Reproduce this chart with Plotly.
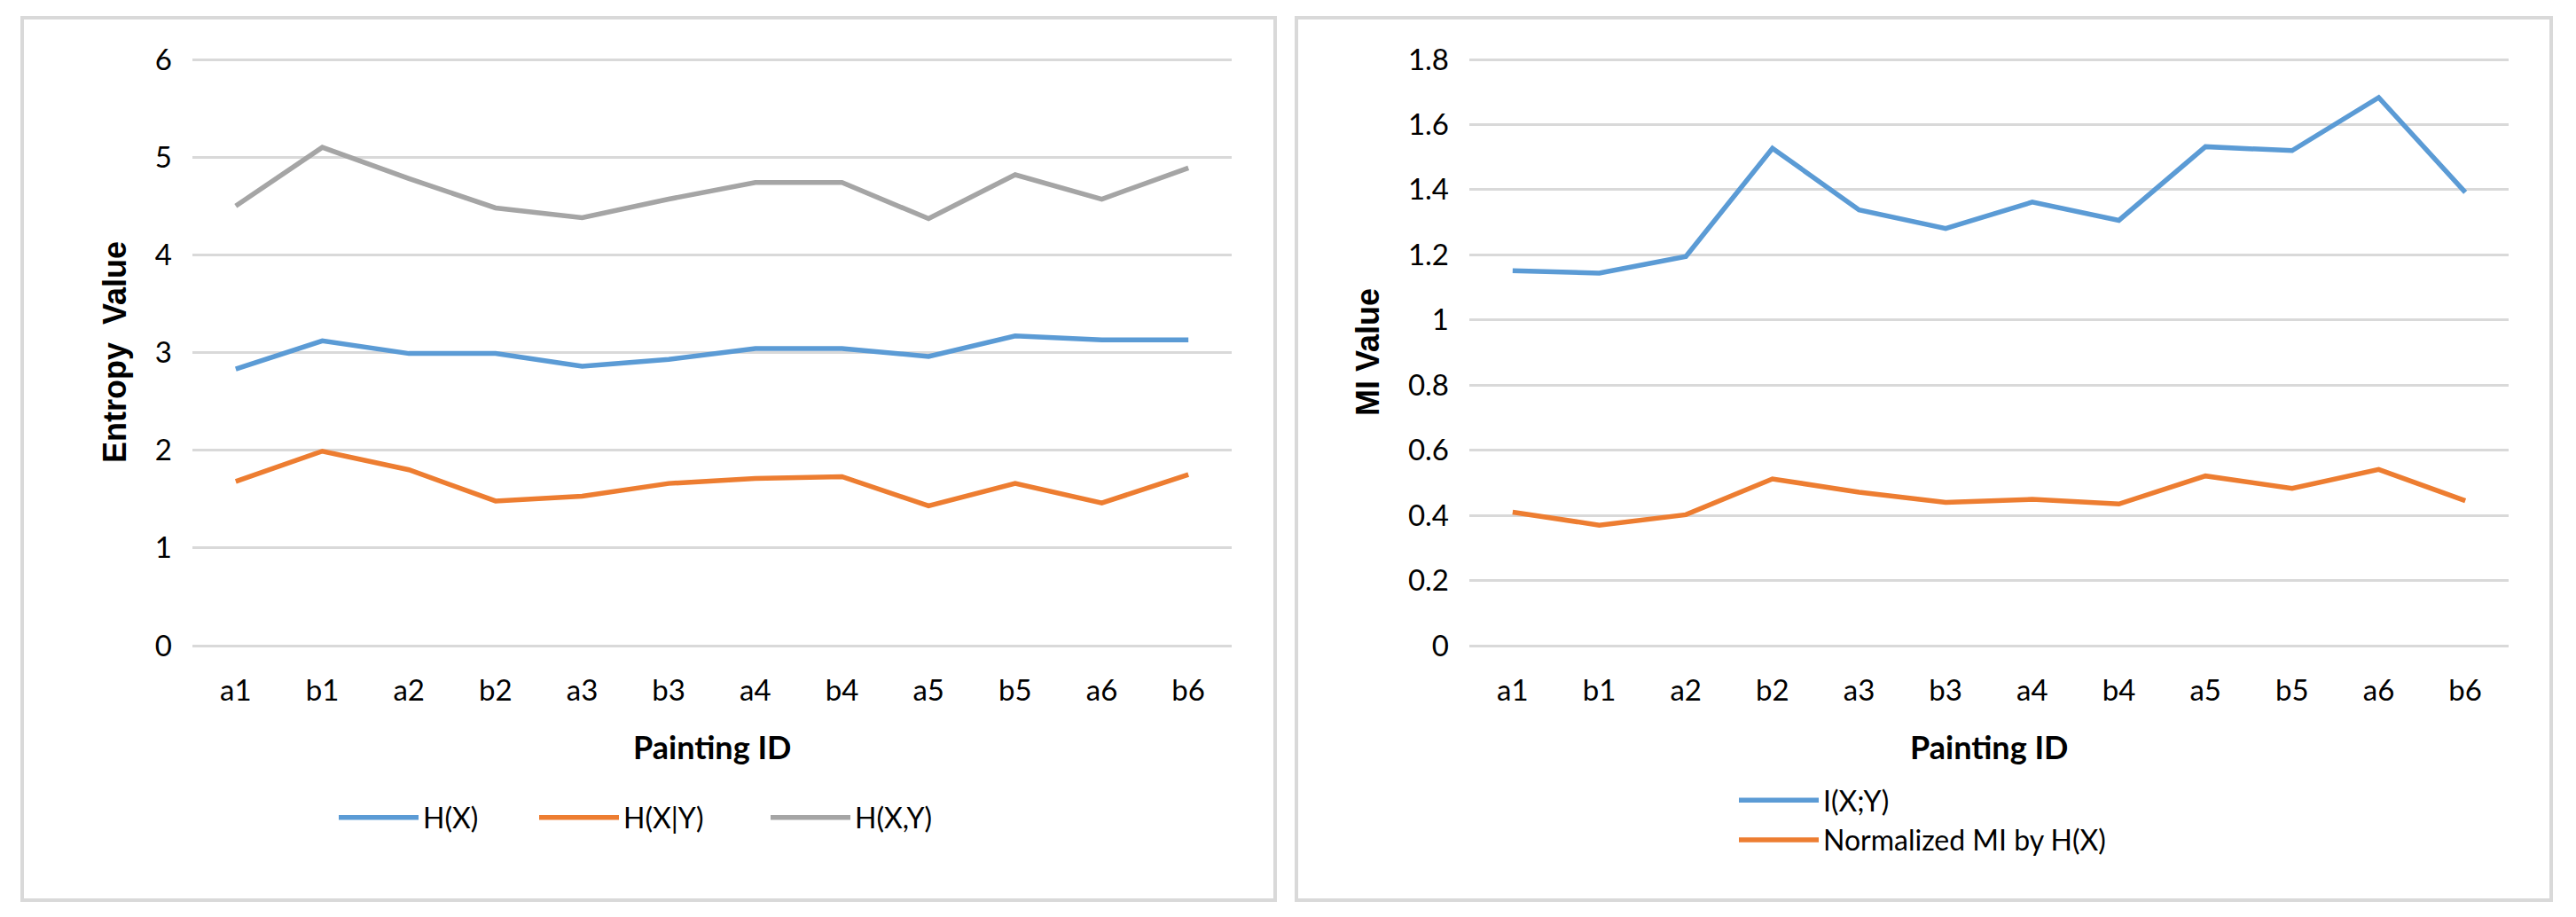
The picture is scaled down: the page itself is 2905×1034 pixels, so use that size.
import plotly.graph_objects as go

W, H = 2905, 1034

painting_ids = ["a1", "b1", "a2", "b2", "a3", "b3", "a4", "b4", "a5", "b5", "a6", "b6"]

# Left chart: entropy values
h_x = [2.83, 3.12, 2.99, 2.99, 2.86, 2.93, 3.04, 3.04, 2.96, 3.17, 3.13, 3.13]
h_x_given_y = [1.68, 1.99, 1.80, 1.48, 1.53, 1.66, 1.71, 1.73, 1.43, 1.66, 1.46, 1.75]
h_xy = [4.50, 5.10, 4.78, 4.48, 4.38, 4.57, 4.74, 4.74, 4.37, 4.82, 4.57, 4.89]

# Right chart: mutual information values
i_xy = [1.151, 1.144, 1.195, 1.527, 1.338, 1.281, 1.362, 1.306, 1.532, 1.520, 1.683, 1.392]
norm_mi = [0.410, 0.370, 0.402, 0.512, 0.471, 0.440, 0.449, 0.435, 0.521, 0.483, 0.541, 0.445]

left_ticks = [0, 1, 2, 3, 4, 5, 6]
right_ticks = [0, 0.2, 0.4, 0.6, 0.8, 1, 1.2, 1.4, 1.6, 1.8]

BLUE, ORANGE, GRAY = "#5B9BD5", "#ED7D31", "#A5A5A5"
GRID = "#D9D9D9"
TICK_FONT = dict(family="Lato", size=33, color="#000000")
LEG_FONT = dict(family="Lato", size=32, color="#000000")
LW = 5.5


def px(x):
    return x / W


def py(y):
    return (H - y) / H


fig = go.Figure()
fig.add_trace(go.Scatter(x=painting_ids, y=h_x, mode="lines", name="H(X)",
                         line=dict(color=BLUE, width=LW), xaxis="x", yaxis="y", legend="legend"))
fig.add_trace(go.Scatter(x=painting_ids, y=h_x_given_y, mode="lines", name="H(X|Y)",
                         line=dict(color=ORANGE, width=LW), xaxis="x", yaxis="y", legend="legend2"))
fig.add_trace(go.Scatter(x=painting_ids, y=h_xy, mode="lines", name="H(X,Y)",
                         line=dict(color=GRAY, width=LW), xaxis="x", yaxis="y", legend="legend3"))
fig.add_trace(go.Scatter(x=painting_ids, y=i_xy, mode="lines", name="I(X;Y)",
                         line=dict(color=BLUE, width=LW), xaxis="x2", yaxis="y2", legend="legend4"))
fig.add_trace(go.Scatter(x=painting_ids, y=norm_mi, mode="lines", name="Normalized MI by H(X)",
                         line=dict(color=ORANGE, width=LW), xaxis="x2", yaxis="y2", legend="legend4"))

# small padding so gridlines at the range ends are drawn
ydom = [py(730.2), py(64.8)]
xaxis_common = dict(type="category", categoryorder="array", categoryarray=painting_ids,
                    range=[-0.5, 11.5], showgrid=False, showline=False, zeroline=False,
                    ticks="", tickfont=TICK_FONT, ticklabelstandoff=26, fixedrange=True,
                    automargin=False)
yaxis_common = dict(showgrid=True, gridcolor=GRID, gridwidth=3, showline=False, zeroline=False,
                    ticks="", tickfont=TICK_FONT, ticklabelstandoff=22, fixedrange=True,
                    automargin=False)

legend_common = dict(orientation="h", font=LEG_FONT, itemwidth=90, bgcolor="rgba(0,0,0,0)",
                     borderwidth=0, xanchor="left", yanchor="middle", itemclick=False,
                     itemdoubleclick=False)

fig.update_layout(
    width=W, height=H,
    margin=dict(l=0, r=0, t=0, b=0, autoexpand=False),
    paper_bgcolor="white", plot_bgcolor="white",
    xaxis=dict(domain=[px(217), px(1389)], anchor="y", **xaxis_common),
    yaxis=dict(domain=ydom, anchor="x", range=[-0.02, 6.02], tickmode="array", tickvals=left_ticks,
               **yaxis_common),
    xaxis2=dict(domain=[px(1657), px(2829)], anchor="y2", **xaxis_common),
    yaxis2=dict(domain=ydom, anchor="x2", range=[-0.006, 1.806], tickmode="array",
                tickvals=right_ticks, ticktext=[f"{v:g}" for v in right_ticks], **yaxis_common),
    legend=dict(x=px(377), y=py(922), **legend_common),
    legend2=dict(x=px(603), y=py(922), **legend_common),
    legend3=dict(x=px(864), y=py(922), **legend_common),
    legend4=dict(x=px(1956), y=py(925), orientation="v", font=LEG_FONT, itemwidth=90,
                 bgcolor="rgba(0,0,0,0)", borderwidth=0, xanchor="left", yanchor="middle",
                 itemclick=False, itemdoubleclick=False, tracegroupgap=0),
    showlegend=True,
    shapes=[
        dict(type="rect", xref="paper", yref="paper", x0=px(25), x1=px(1438), y0=py(1015), y1=py(20),
             line=dict(color=GRID, width=4), fillcolor="rgba(0,0,0,0)", layer="below"),
        dict(type="rect", xref="paper", yref="paper", x0=px(1462), x1=px(2877), y0=py(1015), y1=py(20),
             line=dict(color=GRID, width=4), fillcolor="rgba(0,0,0,0)", layer="below"),
    ],
    annotations=[
        dict(text="<b>Entropy  Value</b>", xref="paper", yref="paper", x=px(130), y=py(397),
             textangle=-90, showarrow=False, xanchor="center", yanchor="middle",
             font=dict(family="Liberation Sans", size=36, color="#000000")),
        dict(text="<b>MI Value</b>", xref="paper", yref="paper", x=px(1543), y=py(397),
             textangle=-90, showarrow=False, xanchor="center", yanchor="middle",
             font=dict(family="Liberation Sans", size=36, color="#000000")),
        dict(text="<b>Painting ID</b>", xref="paper", yref="paper", x=px(803), y=py(842),
             showarrow=False, xanchor="center", yanchor="middle",
             font=dict(family="Lato", size=36, color="#000000")),
        dict(text="<b>Painting ID</b>", xref="paper", yref="paper", x=px(2243), y=py(842),
             showarrow=False, xanchor="center", yanchor="middle",
             font=dict(family="Lato", size=36, color="#000000")),
    ],
)

fig.write_html(
    "out.html",
    config={"displayModeBar": False},
    post_script="document.body.style.margin='0';document.body.style.overflow='hidden';",
)
